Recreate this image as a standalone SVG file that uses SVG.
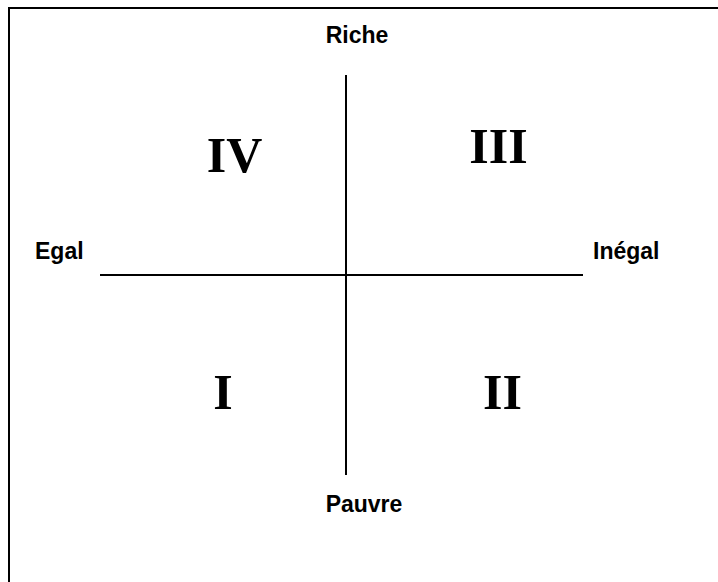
<svg xmlns="http://www.w3.org/2000/svg" width="718" height="582" viewBox="0 0 718 582">
<style>
.lbl{font-family:"Liberation Sans",Arial,sans-serif;font-weight:bold;font-size:23px;fill:#000}
.num{font-family:"Liberation Serif","Times New Roman",serif;font-weight:bold;font-size:50px;fill:#000;text-anchor:middle}
.ax{stroke:#000;stroke-width:2;fill:none}
</style>
<rect x="0" y="0" width="718" height="582" fill="#fff"/>
<rect x="9" y="8" width="720" height="600" fill="none" stroke="#000" stroke-width="2"/>
<g id="axes">
<line class="ax" x1="346" y1="75" x2="346" y2="475"/>
<line class="ax" x1="100" y1="275" x2="583" y2="275"/>
</g>
<g id="riche"><text class="lbl" x="357" y="43" text-anchor="middle">Riche</text></g>
<g id="pauvre"><text class="lbl" x="364" y="512" text-anchor="middle">Pauvre</text></g>
<g id="egal"><text class="lbl" x="35" y="259">Egal</text></g>
<g id="inegal"><text class="lbl" x="593" y="259">Inégal</text></g>
<g id="q4"><text class="num" x="234.5" y="172">IV</text></g>
<g id="q3"><text class="num" x="498.5" y="163">III</text></g>
<g id="q1"><text class="num" x="223" y="409">I</text></g>
<g id="q2"><text class="num" x="502.5" y="409">II</text></g>
</svg>
